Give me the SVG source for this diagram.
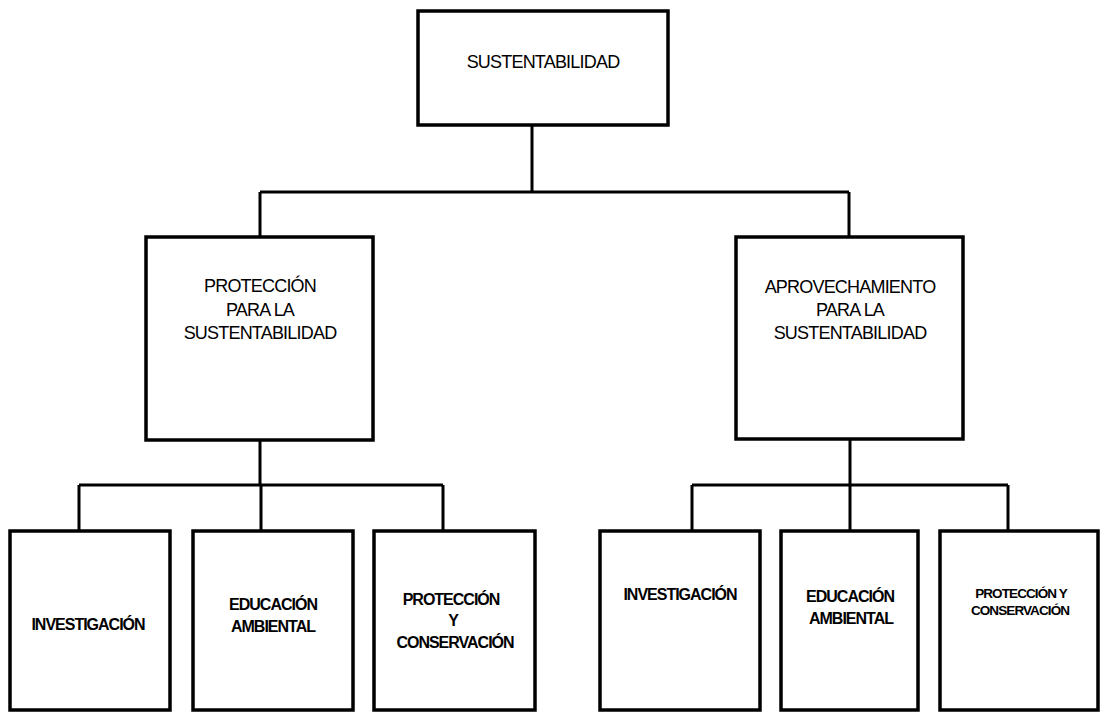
<svg xmlns="http://www.w3.org/2000/svg" width="1100" height="714" viewBox="0 0 1100 714">
<style>
.box{fill:#fff;stroke:#000;stroke-width:3.5}
.con{fill:none;stroke:#000;stroke-width:3}
.t{font-family:"Liberation Sans",Arial,sans-serif;text-anchor:middle;fill:#000}
.t1{font-size:18px;letter-spacing:-0.8px}
.t2{font-size:16px;font-weight:bold;letter-spacing:-1px}
.t3{font-size:13.5px;font-weight:bold;letter-spacing:-0.9px}
</style>
<rect width="1100" height="714" fill="#fff"/>
<g id="connectors">
<path class="con" d="M532,125 V192 M260,192 H849 M260,192 V237 M849,192 V237"/>
<path class="con" d="M260,440 V485 M79,485 H443 M79,485 V531 M261,485 V531 M443,485 V531"/>
<path class="con" d="M850,439 V485 M692,485 H1008 M692,485 V531 M850,485 V531 M1008,485 V531"/>
</g>
<g id="n-sust">
<rect class="box" x="418" y="11" width="250" height="114"/>
<text class="t t1" x="543" y="68">SUSTENTABILIDAD</text>
</g>
<g id="n-prot">
<rect class="box" x="146" y="237" width="227" height="203"/>
<text class="t t1" x="260" y="292">PROTECCIÓN</text>
<text class="t t1" x="260" y="316">PARA LA</text>
<text class="t t1" x="260" y="339">SUSTENTABILIDAD</text>
</g>
<g id="n-aprov">
<rect class="box" x="736" y="237" width="227" height="202"/>
<text class="t t1" x="850" y="293">APROVECHAMIENTO</text>
<text class="t t1" x="850" y="316">PARA LA</text>
<text class="t t1" x="850" y="339">SUSTENTABILIDAD</text>
</g>
<g id="n-inv1">
<rect class="box" x="10" y="531" width="160" height="179"/>
<text class="t t2" x="88" y="630">INVESTIGACIÓN</text>
</g>
<g id="n-edu1">
<rect class="box" x="193" y="531" width="160" height="179"/>
<text class="t t2" x="273" y="610">EDUCACIÓN</text>
<text class="t t2" x="273" y="632">AMBIENTAL</text>
</g>
<g id="n-pc1">
<rect class="box" x="374" y="531" width="161" height="179"/>
<text class="t t2" x="451" y="605">PROTECCIÓN</text>
<text class="t t2" x="453" y="626">Y</text>
<text class="t t2" x="455" y="648">CONSERVACIÓN</text>
</g>
<g id="n-inv2">
<rect class="box" x="600" y="531" width="160" height="179"/>
<text class="t t2" x="680" y="600">INVESTIGACIÓN</text>
</g>
<g id="n-edu2">
<rect class="box" x="781" y="531" width="137" height="179"/>
<text class="t t2" x="850" y="602">EDUCACIÓN</text>
<text class="t t2" x="851" y="624">AMBIENTAL</text>
</g>
<g id="n-pc2">
<rect class="box" x="940" y="531" width="158" height="179"/>
<text class="t t3" x="1021" y="598">PROTECCIÓN Y</text>
<text class="t t3" x="1020" y="615">CONSERVACIÓN</text>
</g>
</svg>
